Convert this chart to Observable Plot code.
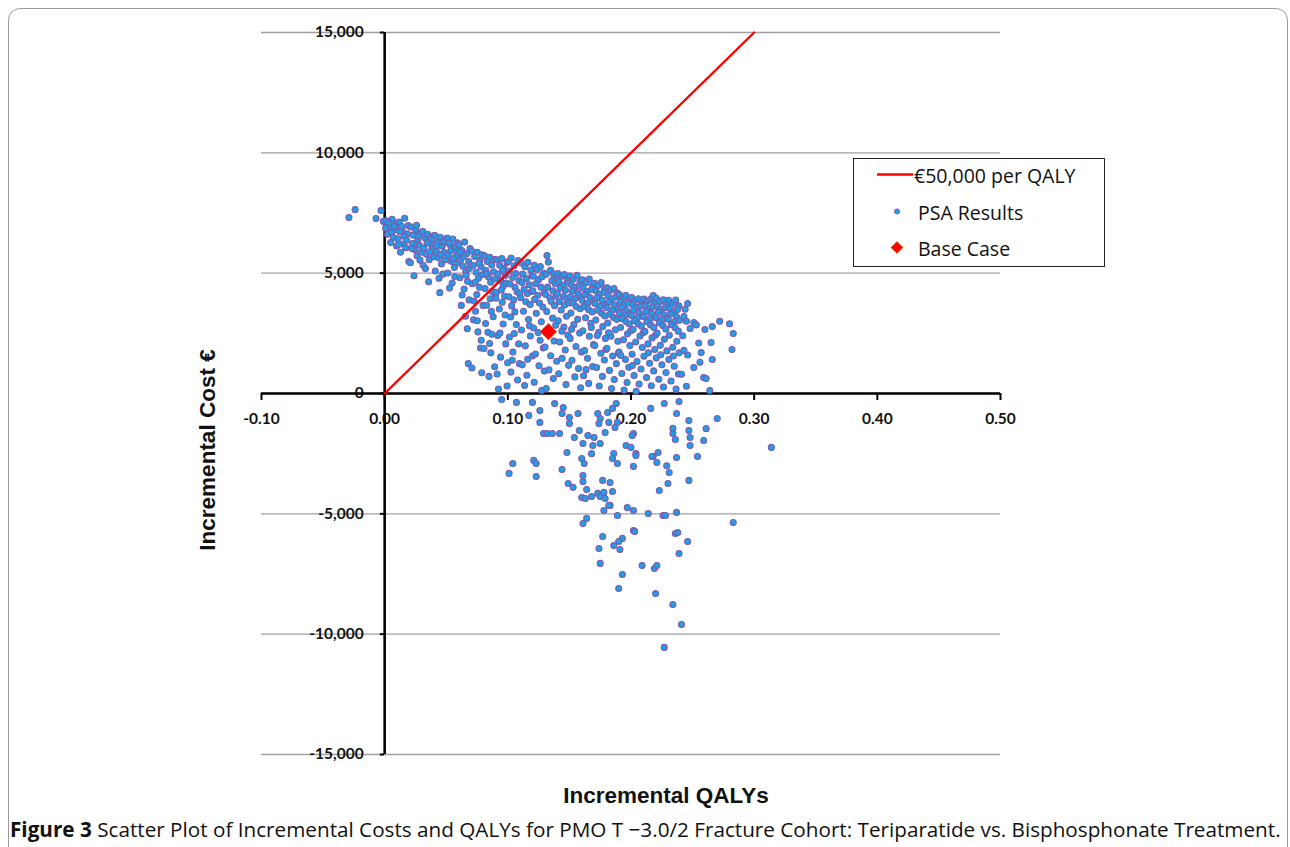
<!DOCTYPE html>
<html><head><meta charset="utf-8">
<script src="https://cdn.jsdelivr.net/npm/d3@7"></script>
<script src="https://cdn.jsdelivr.net/npm/@observablehq/plot@0.6"></script>
<style>
html,body{margin:0;padding:0;background:#fff;overflow:hidden;width:1290px;height:847px;}
#frame{position:absolute;left:8px;top:8px;width:1278px;height:900px;border:1px solid #9a9a9a;border-radius:12px;}
#chart{position:absolute;left:0;top:0;}
.title{position:absolute;font-family:"Liberation Sans",Arial,sans-serif;font-weight:bold;font-size:22.5px;white-space:nowrap;color:#111;}
#ytitle{left:208px;top:450px;transform:translate(-50%,-50%) rotate(-90deg);}
#xtitle{left:666px;top:796px;transform:translate(-50%,-50%);}
#legend{position:absolute;left:853px;top:158px;width:250px;height:107px;border:1.5px solid #222;background:#fff;font-family:"Open Sans",sans-serif;font-size:19.5px;color:#111;}
#legend span{position:absolute;white-space:nowrap;transform:translateY(-50%);}
#legend svg{position:absolute;left:0;top:0;}
#caption{position:absolute;left:10px;top:829px;transform:translateY(-50%);font-family:"Open Sans",sans-serif;font-size:20.7px;white-space:nowrap;color:#111;}
</style></head>
<body>
<div id="frame"></div>
<div id="chart"></div>
<div class="title" id="ytitle">Incremental Cost €</div>
<div class="title" id="xtitle">Incremental QALYs</div>
<div id="legend">
<svg width="250" height="107">
<line x1="23" y1="15.5" x2="59" y2="15.5" stroke="#ff0000" stroke-width="2.4"/>
<circle cx="43" cy="52.5" r="2.6" fill="#1f9fe8" stroke="#7b5cb0" stroke-width="0.9"/>
<path d="M43,82.5 L49,88.5 L43,94.5 L37,88.5 Z" fill="#ff0000" stroke="#a08000" stroke-width="0.7"/>
</svg>
<span style="left:60px;top:15.5px;">€50,000 per QALY</span>
<span style="left:64px;top:52.5px;">PSA Results</span>
<span style="left:64px;top:88.5px;">Base Case</span>
</div>
<div id="caption"><b>Figure 3</b> Scatter Plot of Incremental Costs and QALYs for PMO T −3.0/2 Fracture Cohort: Teriparatide vs. Bisphosphonate Treatment.</div>
<script>
const xTicks = [-0.1, 0, 0.1, 0.2, 0.3, 0.4, 0.5];
const xTickLabels = ["-0.10", "0.00", "0.10", "0.20", "0.30", "0.40", "0.50"];
const yTicks = [-15000, -10000, -5000, 0, 5000, 10000, 15000];
const yTickLabels = ["-15,000", "-10,000", "-5,000", "0", "5,000", "10,000", "15,000"];

const wtpLine = [[0, 0], [0.3, 15000]]; // €50,000 per QALY
const baseCase = [[0.133, 2570]];

// PSA results: [incremental QALY, incremental cost €]
const psaPoints = [
[-0.029,7310],[-0.024,7640],[-0.003,7600],[-0.007,7270],[-0.001,7150],
[0.0012,7180],[0.0035,6920],[0.0061,7240],[0.0088,6810],[0.0024,6620],[0.0093,7060],[0.0072,6480],[0.0049,6270],[0.0097,6130],[0.0008,6870],[0.0056,6700],[0.0031,7090],[0.0079,6950],
[0.0118,7120],[0.0143,6760],[0.0162,7280],[0.0186,6640],[0.0107,6430],[0.0191,6980],[0.0152,6210],[0.0171,6060],[0.0129,5870],[0.0196,5480],[0.0158,6530],[0.0124,6720],[0.0137,6950],[0.0179,6370],[0.0113,6190],
[0.0214,6920],[0.0233,6580],[0.0251,6810],[0.0268,6370],[0.0292,6690],[0.0227,6230],[0.0244,5980],[0.0263,5720],[0.0281,6160],[0.0209,5430],[0.0238,4890],[0.0296,5870],[0.0259,6990],[0.0275,6540],[0.0221,6020],[0.0287,5540],
[0.0308,6740],[0.0326,6470],[0.0349,6620],[0.0371,6230],[0.0392,6530],[0.0317,6040],[0.0338,5790],[0.0362,5560],[0.0384,6010],[0.0312,5330],[0.0357,4640],[0.0398,5680],[0.0331,5190],[0.0376,6410],[0.0344,6260],[0.0366,5880],
[0.0406,6570],[0.0428,6280],[0.0452,6490],[0.0467,6120],[0.0489,6410],[0.0418,5920],[0.0437,5640],[0.0461,5380],[0.0483,5860],[0.0411,5090],[0.0448,4190],[0.0494,5560],[0.0441,4790],[0.0472,4960],[0.0423,6130],[0.0478,6300],[0.0455,5770],
[0.0509,6460],[0.0532,6180],[0.0553,6420],[0.0574,5990],[0.0591,6260],[0.0516,5760],[0.0541,5490],[0.0566,5240],[0.0583,5710],[0.0512,5010],[0.0548,4590],[0.0597,5420],[0.0527,4380],[0.0569,4860],[0.0536,5930],[0.0579,6110],[0.0558,5610],[0.0521,6250],
[0.0604,6170],[0.0627,5940],[0.0649,6290],[0.0668,5810],[0.0693,6020],[0.0618,5560],[0.0636,5290],[0.0659,5060],[0.0682,5480],[0.0611,4810],[0.0645,4340],[0.0688,5190],[0.0629,4090],[0.0673,4660],[0.0622,3660],[0.0671,2690],[0.0656,3210],[0.0679,1240],[0.0641,5690],[0.0697,5350],[0.0614,5870],[0.0662,4910],[0.0686,3890],
[0.0707,5920],[0.0731,5690],[0.0752,5870],[0.0774,5530],[0.0791,5760],[0.0719,5320],[0.0743,5040],[0.0761,4790],[0.0783,5260],[0.0712,4560],[0.0748,4110],[0.0796,4940],[0.0726,3840],[0.0769,4410],[0.0757,2560],[0.0709,1060],[0.0778,1890],[0.0738,3420],[0.0788,860],[0.0721,3060],[0.0784,2210],[0.0766,5410],[0.0735,4620],[0.0799,3660],[0.0752,3020],
[0.0811,5720],[0.0834,5480],[0.0853,5660],[0.0869,5340],[0.0892,5570],[0.0822,5110],[0.0843,4840],[0.0861,4620],[0.0884,5060],[0.0815,4360],[0.0857,3940],[0.0896,4760],[0.0828,3670],[0.0874,4240],[0.0838,2540],[0.0881,3190],[0.0862,1690],[0.0819,2910],[0.0893,1110],[0.0847,710],[0.0871,2460],[0.0827,4980],[0.0866,3420],[0.0899,4120],[0.0806,1870],[0.0852,2080],
[0.0912,5560],[0.0934,5330],[0.0951,5610],[0.0969,5190],[0.0993,5440],[0.0921,4960],[0.0942,4690],[0.0963,4460],[0.0981,4910],[0.0908,4210],[0.0954,3790],[0.0989,4590],[0.0931,3510],[0.0974,4040],[0.0918,2410],[0.0962,2890],[0.0941,1510],[0.0983,2060],[0.0913,810],[0.0994,310],[0.0924,190],[0.0936,2510],[0.0958,5120],[0.0978,3260],[0.0903,3960],[0.0947,4300],[0.0998,1280],
[0.1004,5480],[0.1027,5630],[0.1051,5310],[0.1083,5520],[0.1012,5090],[0.1066,4980],[0.1039,4820],[0.1091,4690],[0.1018,4550],[0.1058,4410],[0.1075,4230],[0.1009,4020],[0.1046,3890],[0.1097,4130],[0.1031,3640],
[0.1022,3180],[0.1069,2870],[0.1013,2350],[0.1088,2060],[0.1041,1720],[0.1057,3390],[0.1094,1240],[0.1025,890],[0.1079,560],[0.1036,1380],[0.1052,2490],
[0.1108,5420],[0.1139,5270],[0.1163,5450],[0.1187,5130],[0.1121,4960],[0.1152,4780],[0.1196,4890],[0.1115,4610],[0.1174,4520],[0.1132,4330],[0.1158,4150],[0.1192,4240],[0.1104,3980],[0.1146,3810],[0.1181,3700],
[0.1127,3420],[0.1168,3070],[0.1111,2640],[0.1183,2390],[0.1142,1980],[0.1199,1560],[0.1117,1190],[0.1155,760],[0.1136,330],[0.1176,2810],[0.1161,1420],
[0.1215,5330],[0.1238,5150],[0.1264,5280],[0.1291,5010],[0.1207,4870],[0.1249,4730],[0.1278,4850],[0.1226,4560],[0.1269,4420],[0.1203,4270],[0.1243,4080],[0.1295,4190],[0.1218,3910],[0.1257,3760],[0.1284,3590],
[0.1231,3330],[0.1272,2980],[0.1209,2720],[0.1262,2210],[0.1288,1890],[0.1224,1640],[0.1253,1150],[0.1296,930],[0.1214,470],[0.1246,2530],[0.1275,120],
[0.1318,5730],[0.1329,5460],[0.1347,5120],[0.1372,4970],[0.1394,4840],[0.1311,4950],[0.1358,4690],[0.1385,4560],[0.1323,4420],[0.1366,4270],[0.1306,4120],[0.1341,3980],[0.1391,4040],[0.1352,3820],[0.1379,3650],
[0.1316,3410],[0.1364,3130],[0.1389,2840],[0.1327,2690],[0.1376,2180],[0.1302,1930],[0.1348,1570],[0.1397,1340],[0.1334,980],[0.1369,620],[0.1312,210],
[0.1407,4980],[0.1436,4870],[0.1459,4940],[0.1484,4720],[0.1414,4650],[0.1447,4510],[0.1491,4580],[0.1425,4380],[0.1468,4290],[0.1401,4160],[0.1452,4030],[0.1479,3940],[0.1418,3810],[0.1461,3680],[0.1497,3760],
[0.1433,3470],[0.1476,3210],[0.1409,3020],[0.1455,2760],[0.1488,2430],[0.1421,2140],[0.1466,1810],[0.1441,1460],[0.1493,1170],[0.1413,820],[0.1472,370],[0.1439,2590],
[0.1503,4880],[0.1531,4760],[0.1562,4910],[0.1586,4640],[0.1516,4520],[0.1548,4410],[0.1579,4480],[0.1524,4260],[0.1569,4170],[0.1508,4020],[0.1542,3930],[0.1594,3990],[0.1528,3760],[0.1556,3610],[0.1588,3520],
[0.1512,3340],[0.1567,3080],[0.1536,2860],[0.1583,2510],[0.1506,2290],[0.1553,1950],[0.1597,1720],[0.1521,1380],[0.1574,1040],[0.1544,690],[0.1591,240],[0.1518,2670],
[0.1606,4720],[0.1637,4610],[0.1661,4760],[0.1689,4490],[0.1612,4380],[0.1645,4240],[0.1681,4330],[0.1626,4110],[0.1668,3990],[0.1603,3870],[0.1651,3760],[0.1694,3840],[0.1619,3610],[0.1657,3480],[0.1685,3390],
[0.1631,3150],[0.1674,2920],[0.1609,2610],[0.1662,2380],[0.1696,2030],[0.1623,1780],[0.1647,1460],[0.1689,1120],[0.1615,740],[0.1656,420],[0.1678,2740],[0.1635,990],
[0.1704,4580],[0.1733,4490],[0.1758,4610],[0.1786,4370],[0.1716,4260],[0.1744,4120],[0.1779,4210],[0.1723,3980],[0.1767,3870],[0.1708,3740],[0.1751,3620],[0.1795,3690],[0.1729,3460],[0.1762,3330],[0.1788,3220],
[0.1714,3050],[0.1771,2780],[0.1738,2540],[0.1792,2290],[0.1706,1990],[0.1755,1670],[0.1784,1390],[0.1721,1080],[0.1768,710],[0.1742,310],[0.1797,1830],[0.1727,2410],
[0.1807,4390],[0.1835,4290],[0.1862,4360],[0.1889,4170],[0.1814,4060],[0.1848,3940],[0.1877,4020],[0.1821,3790],[0.1866,3680],[0.1803,3560],[0.1853,3470],[0.1896,3510],[0.1829,3290],[0.1859,3160],[0.1884,3080],
[0.1811,2930],[0.1872,2650],[0.1837,2380],[0.1893,2170],[0.1805,1880],[0.1851,1560],[0.1881,1240],[0.1825,960],[0.1864,580],[0.1842,210],[0.1899,1670],[0.1818,2520],
[0.1904,4110],[0.1936,3990],[0.1958,4080],[0.1983,3890],[0.1912,3810],[0.1947,3690],[0.1976,3760],[0.1921,3560],[0.1965,3450],[0.1907,3340],[0.1952,3250],[0.1994,3310],[0.1928,3110],[0.1961,2980],[0.1987,2890],
[0.1915,2740],[0.1972,2480],[0.1939,2230],[0.1991,1990],[0.1903,1720],[0.1955,1410],[0.1982,1090],[0.1926,830],[0.1968,460],[0.1944,140],[0.1998,2610],[0.1918,1580],
[0.2006,3990],[0.2034,3870],[0.2061,3940],[0.2088,3780],[0.2013,3690],[0.2045,3580],[0.2079,3640],[0.2022,3450],[0.2067,3360],[0.2004,3240],[0.2053,3150],[0.2096,3210],[0.2029,3020],[0.2058,2890],[0.2084,2800],
[0.2017,2660],[0.2073,2390],[0.2038,2140],[0.2092,1910],[0.2009,1630],[0.2049,1330],[0.2081,1020],[0.2025,750],[0.2066,390],[0.2042,90],[0.2099,2520],[0.2011,1160],
[0.2107,3920],[0.2134,3840],[0.2163,3930],[0.2181,4070],[0.2191,3760],[0.2116,3650],[0.2148,3540],[0.2176,3600],[0.2123,3410],[0.2168,3320],[0.2103,3200],[0.2154,3110],[0.2195,3170],[0.2129,2980],[0.2159,2850],
[0.2186,2740],[0.2113,2580],[0.2171,2310],[0.2138,2060],[0.2193,1830],[0.2105,1550],[0.2151,1260],[0.2184,940],[0.2126,660],[0.2165,320],[0.2141,1690],[0.2198,2420],
[0.2206,3960],[0.2235,3810],[0.2262,3890],[0.2287,3720],[0.2214,3610],[0.2246,3500],[0.2278,3560],[0.2223,3380],[0.2267,3270],[0.2203,3160],[0.2254,3080],[0.2295,3130],[0.2229,2940],[0.2259,2820],
[0.2283,2680],[0.2212,2510],[0.2271,2250],[0.2238,2000],[0.2291,1770],[0.2205,1480],[0.2251,1190],[0.2284,870],[0.2226,590],[0.2264,270],[0.2242,1610],
[0.2305,3870],[0.2336,3720],[0.2363,3880],[0.2389,3640],[0.2314,3530],[0.2347,3420],[0.2378,3490],[0.2322,3310],[0.2369,3200],[0.2302,3090],[0.2355,2990],[0.2394,3040],[0.2328,2860],[0.2358,2730],
[0.2384,2590],[0.2311,2420],[0.2372,2170],[0.2339,1920],[0.2391,1690],[0.2307,1410],[0.2351,1130],[0.2385,810],[0.2325,520],[0.2366,180],[0.2344,1560],
[0.246,3740],[0.244,3500],[0.243,3200],[0.245,3000],[0.248,2700],[0.242,2400],[0.243,1790],[0.246,1600],[0.241,800],[0.245,300],[0.251,2950],[0.253,2850],[0.251,1080],[0.256,1300],[0.259,660],[0.26,2660],[0.266,2780],[0.272,3000],[0.28,2900],[0.283,2490],[0.265,2120],[0.282,1830],[0.266,1410],[0.261,620],[0.264,120],[0.255,2100],[0.257,1700],
[0.095,-250],[0.107,-370],[0.12,-370],[0.117,-910],[0.126,-710],[0.126,-1200],[0.129,-1660],[0.132,-1660],[0.136,-1660],[0.142,-1660],[0.138,-420],[0.145,-580],[0.144,-830],[0.15,-1000],[0.157,-830],[0.15,-1250],[0.158,-1540],[0.154,-1830],[0.148,-2450],[0.161,-2080],[0.165,-1750],[0.168,-2500],[0.162,-2910],[0.16,-2700],[0.17,-1830],[0.169,-2160],[0.175,-2080],[0.175,-1040],[0.181,-790],[0.185,-620],[0.188,-415],[0.173,-830],[0.174,-1250],[0.179,-1620],[0.189,-1200],[0.202,-1660],[0.196,-2160],[0.2,-2240],[0.204,-2490],[0.186,-2490],[0.189,-2910],[0.185,-2700],[0.202,-3030],[0.218,-2620],[0.221,-2870],
[0.104,-2910],[0.101,-3320],[0.121,-2780],[0.123,-2910],[0.123,-3450],[0.144,-3160],[0.149,-3740],[0.153,-3900],[0.161,-3660],[0.161,-3410],[0.164,-3990],[0.16,-4320],[0.163,-4360],[0.168,-4280],[0.173,-4150],[0.175,-4280],[0.179,-4360],[0.178,-4110],[0.177,-3610],[0.183,-3700],[0.185,-4070],[0.183,-4650],[0.178,-4860],[0.189,-5070],[0.197,-4740],[0.202,-4860],[0.214,-4990],[0.164,-5190],[0.161,-5400],[0.177,-5940],[0.193,-6020],[0.202,-5690],
[0.314,-2240],[0.27,-1040],[0.261,-1460],[0.259,-1950],[0.254,-2620],[0.247,-3610],[0.248,-2160],[0.248,-1830],[0.247,-1540],[0.247,-1120],[0.237,-2660],[0.236,-1910],[0.234,-1660],[0.234,-1450],[0.237,-830],[0.239,-330],[0.227,-415],[0.216,-620],[0.231,-3280],[0.229,-3000],[0.222,-2450],[0.217,-2620],[0.23,-3740],[0.223,-4030],[0.204,-2580],[0.201,-1750],[0.187,-1410],[0.182,-1200],[0.182,-4650],[0.226,-5070],[0.228,-5070],[0.237,-4940],
[0.174,-6440],[0.19,-6150],[0.186,-6320],[0.191,-6480],[0.203,-5730],[0.175,-7060],[0.193,-7520],[0.19,-8100],[0.209,-7150],[0.219,-7270],[0.221,-7150],[0.22,-8310],[0.236,-5820],[0.238,-5780],[0.246,-6150],[0.239,-6650],[0.234,-8770],[0.241,-9600],[0.227,-10550],[0.283,-5360]
];

const labelFont = {fontFamily: "Lato, 'Open Sans', sans-serif", fontSize: 15.5, fontWeight: "bold", fill: "#111"};

const chart = Plot.plot({
  width: 1290, height: 800,
  marginLeft: 261, marginRight: 290, marginTop: 32, marginBottom: 46,
  x: {domain: [-0.1, 0.5], axis: null},
  y: {domain: [-15000, 15000], axis: null},
  style: {background: "transparent", overflow: "visible"},
  marks: [
    Plot.ruleY(yTicks, {y: d => d, x1: -0.1, x2: 0.5, stroke: "#a0a0a0", strokeWidth: 1.3}),
    Plot.text(yTicks, {x: () => 0, y: d => d, text: (d, i) => yTickLabels[i], textAnchor: "end", dx: -21, ...labelFont}),
    Plot.text(xTicks, {x: d => d, y: () => 0, text: (d, i) => xTickLabels[i], dy: 26, ...labelFont}),
    Plot.ruleX(xTicks, {x: d => d, y1: 0, y2: -290, stroke: "#000", strokeWidth: 2}),
    Plot.ruleY(yTicks, {y: d => d, x1: -0.0035, x2: 0, stroke: "#000", strokeWidth: 2}),
    Plot.ruleY([0], {x1: -0.1, x2: 0.5, stroke: "#000", strokeWidth: 2.6}),
    Plot.ruleX([0], {y1: -15000, y2: 15000, stroke: "#000", strokeWidth: 2.6}),
    Plot.dot(psaPoints, {x: d => d[0], y: d => d[1], r: 3, fill: "#1f9fe8", stroke: "#7b5cb0", strokeWidth: 1.1}),
    Plot.line(wtpLine, {x: d => d[0], y: d => d[1], stroke: "#ff0000", strokeWidth: 2.4}),
    Plot.dot(baseCase, {x: d => d[0], y: d => d[1], symbol: "diamond2", r: 7.5, fill: "#ff0000", stroke: "#a08000", strokeWidth: 0.8})
  ]
});
document.getElementById("chart").appendChild(chart);
</script>
</body></html>
